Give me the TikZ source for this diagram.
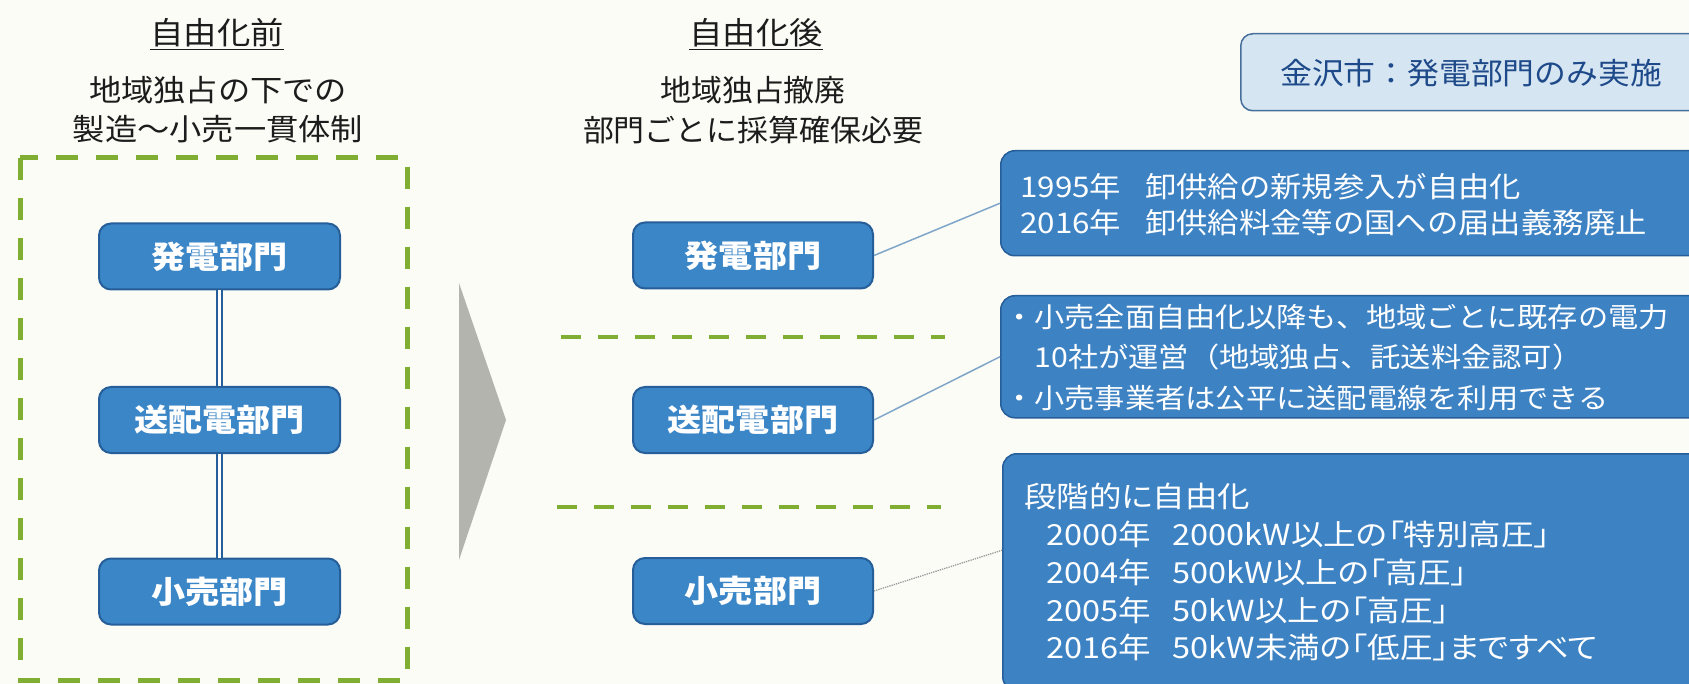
\documentclass[tikz,border=0pt]{standalone}
\usepackage{fontspec}
\setmainfont{Noto Sans CJK JP}
\newfontfamily\jph[FakeStretch=1.075]{Noto Sans CJK JP}
\newfontfamily\jpm[FakeStretch=1.03]{Noto Sans CJK JP}
\newfontfamily\jpb[FakeStretch=1.1]{Noto Sans CJK JP}
\newfontfamily\jpn[FakeStretch=1.1]{Noto Sans CJK JP}
\newfontfamily\jpp[FakeStretch=1.12,RawFeature=+palt]{Noto Sans CJK JP}
\newfontfamily\jpk[FakeStretch=1.06]{Noto Sans CJK JP}
\usetikzlibrary{calc}
\definecolor{bg}{HTML}{FCFCF7}
\definecolor{boxblue}{HTML}{3B86C7}
\definecolor{boxedge}{HTML}{255E98}
\definecolor{bigblue}{HTML}{3D82C3}
\definecolor{dgreen}{HTML}{80AE32}
\definecolor{tri}{HTML}{B4B4AE}
\definecolor{lightbox}{HTML}{D6E5F2}
\definecolor{lightedge}{HTML}{466F9C}
\definecolor{navytext}{HTML}{1E4A8A}
\definecolor{conn}{HTML}{7FA5C8}
\definecolor{connb}{HTML}{9A9A9A}
\definecolor{ink}{HTML}{1C1C1C}
\begin{document}
\begin{tikzpicture}[x=1pt,y=-1pt,
  dept/.style={draw=boxedge, line width=2pt, fill=boxblue, rounded corners=12pt,
    text=white, font=\jpb\bfseries\fontsize{31}{36}\selectfont, inner sep=0pt,
    minimum height=66pt},
  head/.style={text=ink, font=\jph\fontsize{31}{36}\selectfont, inner sep=0pt},
  sub/.style={text=ink, font=\jph\fontsize{30}{39}\selectfont, inner sep=0pt, align=center},
  bigbox/.style={draw=boxedge, line width=1.5pt, fill=bigblue, rounded corners=14pt,
    anchor=north west, inner sep=0pt},
  btext/.style={text=white, inner sep=0pt, align=left, anchor=west},
  gdash/.style={draw=dgreen, line width=5pt, dash pattern=on 22pt off 18pt},
  sepline/.style={draw=dgreen, line width=4pt, dash pattern=on 20pt off 17pt},
  dbl/.style={draw=boxedge, double=white, double distance=2.5pt, line width=2pt},
  connline/.style={draw=conn, line width=1.5pt},
  connlineb/.style={draw=connb, line width=1.3pt, densely dotted},
]
\useasboundingbox (0,0) rectangle (1689,684);
\clip (0,0) rectangle (1689,684);
\fill[bg] (0,0) rectangle (1689,684);

% left column
\node[head] (h1) at (217,33) {自由化前};
\draw[ink, line width=1.5pt] ([yshift=-2pt]h1.south west) -- ([yshift=-2pt]h1.south east);
\node[sub] (s1) at (218,110) {地域独占の下での\\製造～小売一貫体制};
\draw[gdash] (20,158) rectangle (407,680);
\node[dept, minimum width=241pt] (L1) at (219.5,256.5) {発電部門};
\node[dept, minimum width=241pt] (L2) at (219.5,420) {送配電部門};
\node[dept, minimum width=241pt] (L3) at (219.5,591.5) {小売部門};
\draw[dbl] (L1) -- (L2);
\draw[dbl] (L2) -- (L3);

% arrow
\fill[tri] (459,283) -- (506,420) -- (459,560) -- cycle;

% middle column
\node[head] (h2) at (756,33) {自由化後};
\draw[ink, line width=1.5pt] ([yshift=-2pt]h2.south west) -- ([yshift=-2pt]h2.south east);
\node[sub, font=\jpm\fontsize{30}{40}\selectfont] (s2) at (753,110) {地域独占撤廃\\部門ごとに採算確保必要};
\node[dept, minimum width=240pt] (M1) at (753,255.5) {発電部門};
\node[dept, minimum width=240pt] (M2) at (753,420) {送配電部門};
\node[dept, minimum width=240pt] (M3) at (753,591) {小売部門};
\draw[sepline] (561,337) -- (945,337);
\draw[sepline] (557,507) -- (941,507);

% right column
\node[draw=lightedge, line width=1.5pt, fill=lightbox, rounded corners=12pt,
  anchor=north west, minimum width=500pt, minimum height=77pt, inner sep=0pt]
  (K) at (1240,33) {};
\node[text=navytext, font=\jpk\fontsize{30}{34}\selectfont, inner sep=0pt, anchor=west]
  (Kt) at (1280,73) {金沢市：発電部門のみ実施};

\node[bigbox, minimum width=740pt, minimum height=105pt] (B1) at (1000,150) {};
\node[btext, font=\jpn\fontsize{28.5}{36}\selectfont] (T1) at (1020,205)
  {1995年\hspace{24pt}卸供給の新規参入が自由化\\2016年\hspace{24pt}卸供給料金等の国への届出義務廃止};

\node[bigbox, minimum width=740pt, minimum height=122pt] (B2) at (1000,295) {};
\node[btext, font=\jpn\fontsize{27.5}{40.5}\selectfont] (T2) at (1004,357.5)
  {・小売全面自由化以降も、地域ごとに既存の電力\\\phantom{・}10社が運営（地域独占、託送料金認可）\\・小売事業者は公平に送配電線を利用できる};

\node[bigbox, minimum width=740pt, minimum height=237pt] (B3) at (1002,453) {};
\node[btext, font=\jpp\fontsize{29}{37.75}\selectfont] (T3) at (1024,572.5) {段階的に自由化\\
\hspace*{22pt}2000年\hspace{22pt}2000kW以上の「特別高圧」\\
\hspace*{22pt}2004年\hspace{22pt}500kW以上の「高圧」\\
\hspace*{22pt}2005年\hspace{22pt}50kW以上の「高圧」\\
\hspace*{22pt}2016年\hspace{22pt}50kW未満の「低圧」まですべて};

\draw[connline] (M1.east) -- (B1.west);
\draw[connline] (M2.east) -- (B2.west);
\draw[connlineb] (M3.east) -- ([yshift=22pt]B3.west);
\end{tikzpicture}
\end{document}
